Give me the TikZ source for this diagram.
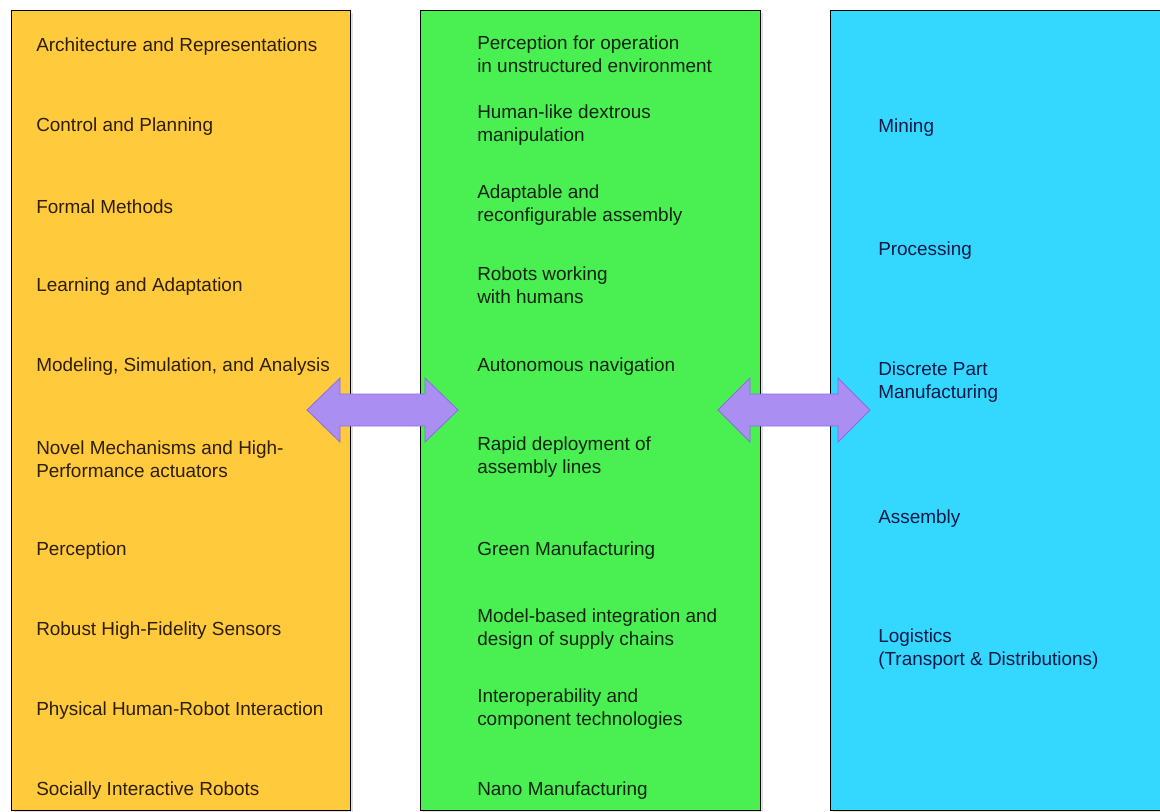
\documentclass[tikz,border=0pt]{standalone}
\usepackage{fontspec}
\setmainfont{Liberation Sans}
\setsansfont{Liberation Sans}
\usetikzlibrary{calc,shadows}

\definecolor{techorange}{RGB}{255,202,60}
\definecolor{appgreen}{RGB}{74,240,82}
\definecolor{sectorcyan}{RGB}{52,216,255}
\definecolor{arrowfill}{RGB}{170,142,242}
\definecolor{arrowedge}{RGB}{138,108,230}

\begin{document}
\begin{tikzpicture}[%
	x=0.75pt, y=-0.75pt,        % work in reference pixels, y going down
	every node/.style={font = \sffamily},
	]
	% -------------------------------------------------
	% Column and text styles
	\tikzset{
		column/.style={draw, line width=1.1pt, rectangle, anchor=north west,
			minimum height=600pt, inner sep=0pt,
			drop shadow={opacity=0.25, shadow xshift=2pt, shadow yshift=-1.5pt}},
		item/.style={anchor=west, align=left, inner sep=0pt, yshift=-2.2pt,
			font={\sffamily\fontsize{14.2}{17.2}\selectfont}},
		techitem/.style={item, text={rgb,255:red,45;green,30;blue,5}},
		appitem/.style={item, text={rgb,255:red,15;green,35;blue,15}},
		sectoritem/.style={item, text={rgb,255:red,10;green,25;blue,70}},
		% fat two-headed arrow between the columns
		fatarrow/.style={fill=arrowfill, draw=arrowedge, line width=0.6pt, line join=miter}
	}

	\useasboundingbox (0,0) rectangle (1160,811);
	\clip (0,0) rectangle (1160,811);

	% columns
	\node[column, fill=techorange, minimum width=254.25pt] (tech) at (11,10) {};
	\node[column, fill=appgreen, minimum width=255pt] (apps) at (420,10) {};
	\node[column, fill=sectorcyan, minimum width=262pt] (sectors) at (830,10) {};

	% technologies
	\node[techitem] (t1) at (36,44) {Architecture and Representations};
	\node[techitem] (t2) at (36,124) {Control and Planning};
	\node[techitem] (t3) at (36,204) {Formal Methods};
	\node[techitem] (t4) at (36,284) {Learning and Adaptation};
	\node[techitem] (t5) at (36,364) {Modeling, Simulation, and Analysis};
	\node[techitem] (t6) at (36,456) {Novel Mechanisms and High-\\Performance actuators};
	\node[techitem] (t7) at (36,548) {Perception};
	\node[techitem] (t8) at (36,628) {Robust High-Fidelity Sensors};
	\node[techitem] (t9) at (36,708) {Physical Human-Robot Interaction};
	\node[techitem] (t10) at (36,788) {Socially Interactive Robots};

	% capabilities
	\node[appitem] (a1) at (477,51) {Perception for operation\\in unstructured environment};
	\node[appitem] (a2) at (477,122) {Human-like dextrous\\manipulation};
	\node[appitem] (a3) at (477,202) {Adaptable and\\reconfigurable assembly};
	\node[appitem] (a4) at (477,282) {Robots working\\with humans};
	\node[appitem] (a5) at (477,364) {Autonomous navigation};
	\node[appitem] (a6) at (477,454) {Rapid deployment of\\assembly lines};
	\node[appitem] (a7) at (477,548) {Green Manufacturing};
	\node[appitem] (a8) at (477,626) {Model-based integration and\\design of supply chains};
	\node[appitem] (a9) at (477,706) {Interoperability and\\component technologies};
	\node[appitem] (a10) at (477,788) {Nano Manufacturing};

	% sectors
	\node[sectoritem] (s1) at (878,125) {Mining};
	\node[sectoritem] (s2) at (878,248) {Processing};
	\node[sectoritem] (s3) at (878,379) {Discrete Part\\Manufacturing};
	\node[sectoritem] (s4) at (878,516) {Assembly};
	\node[sectoritem] (s5) at (878,646) {Logistics\\(Transport \& Distributions)};

	% arrow tips
	\coordinate (la) at (307,410);
	\coordinate (ra) at (458,410);
	\coordinate (lb) at (718,410);
	\coordinate (rb) at (870,410);

	\filldraw[fatarrow] (la) -- ++(33,-32) -- ++(0,16) -- ($(ra)+(-33,-16)$)
		-- ++(0,-16) -- (ra) -- ++(-33,32) -- ++(0,-16) -- ($(la)+(33,16)$)
		-- ++(0,16) -- cycle;
	\filldraw[fatarrow] (lb) -- ++(32,-32) -- ++(0,16) -- ($(rb)+(-32,-16)$)
		-- ++(0,-16) -- (rb) -- ++(-32,32) -- ++(0,-16) -- ($(lb)+(32,16)$)
		-- ++(0,16) -- cycle;

\end{tikzpicture}
\end{document}
